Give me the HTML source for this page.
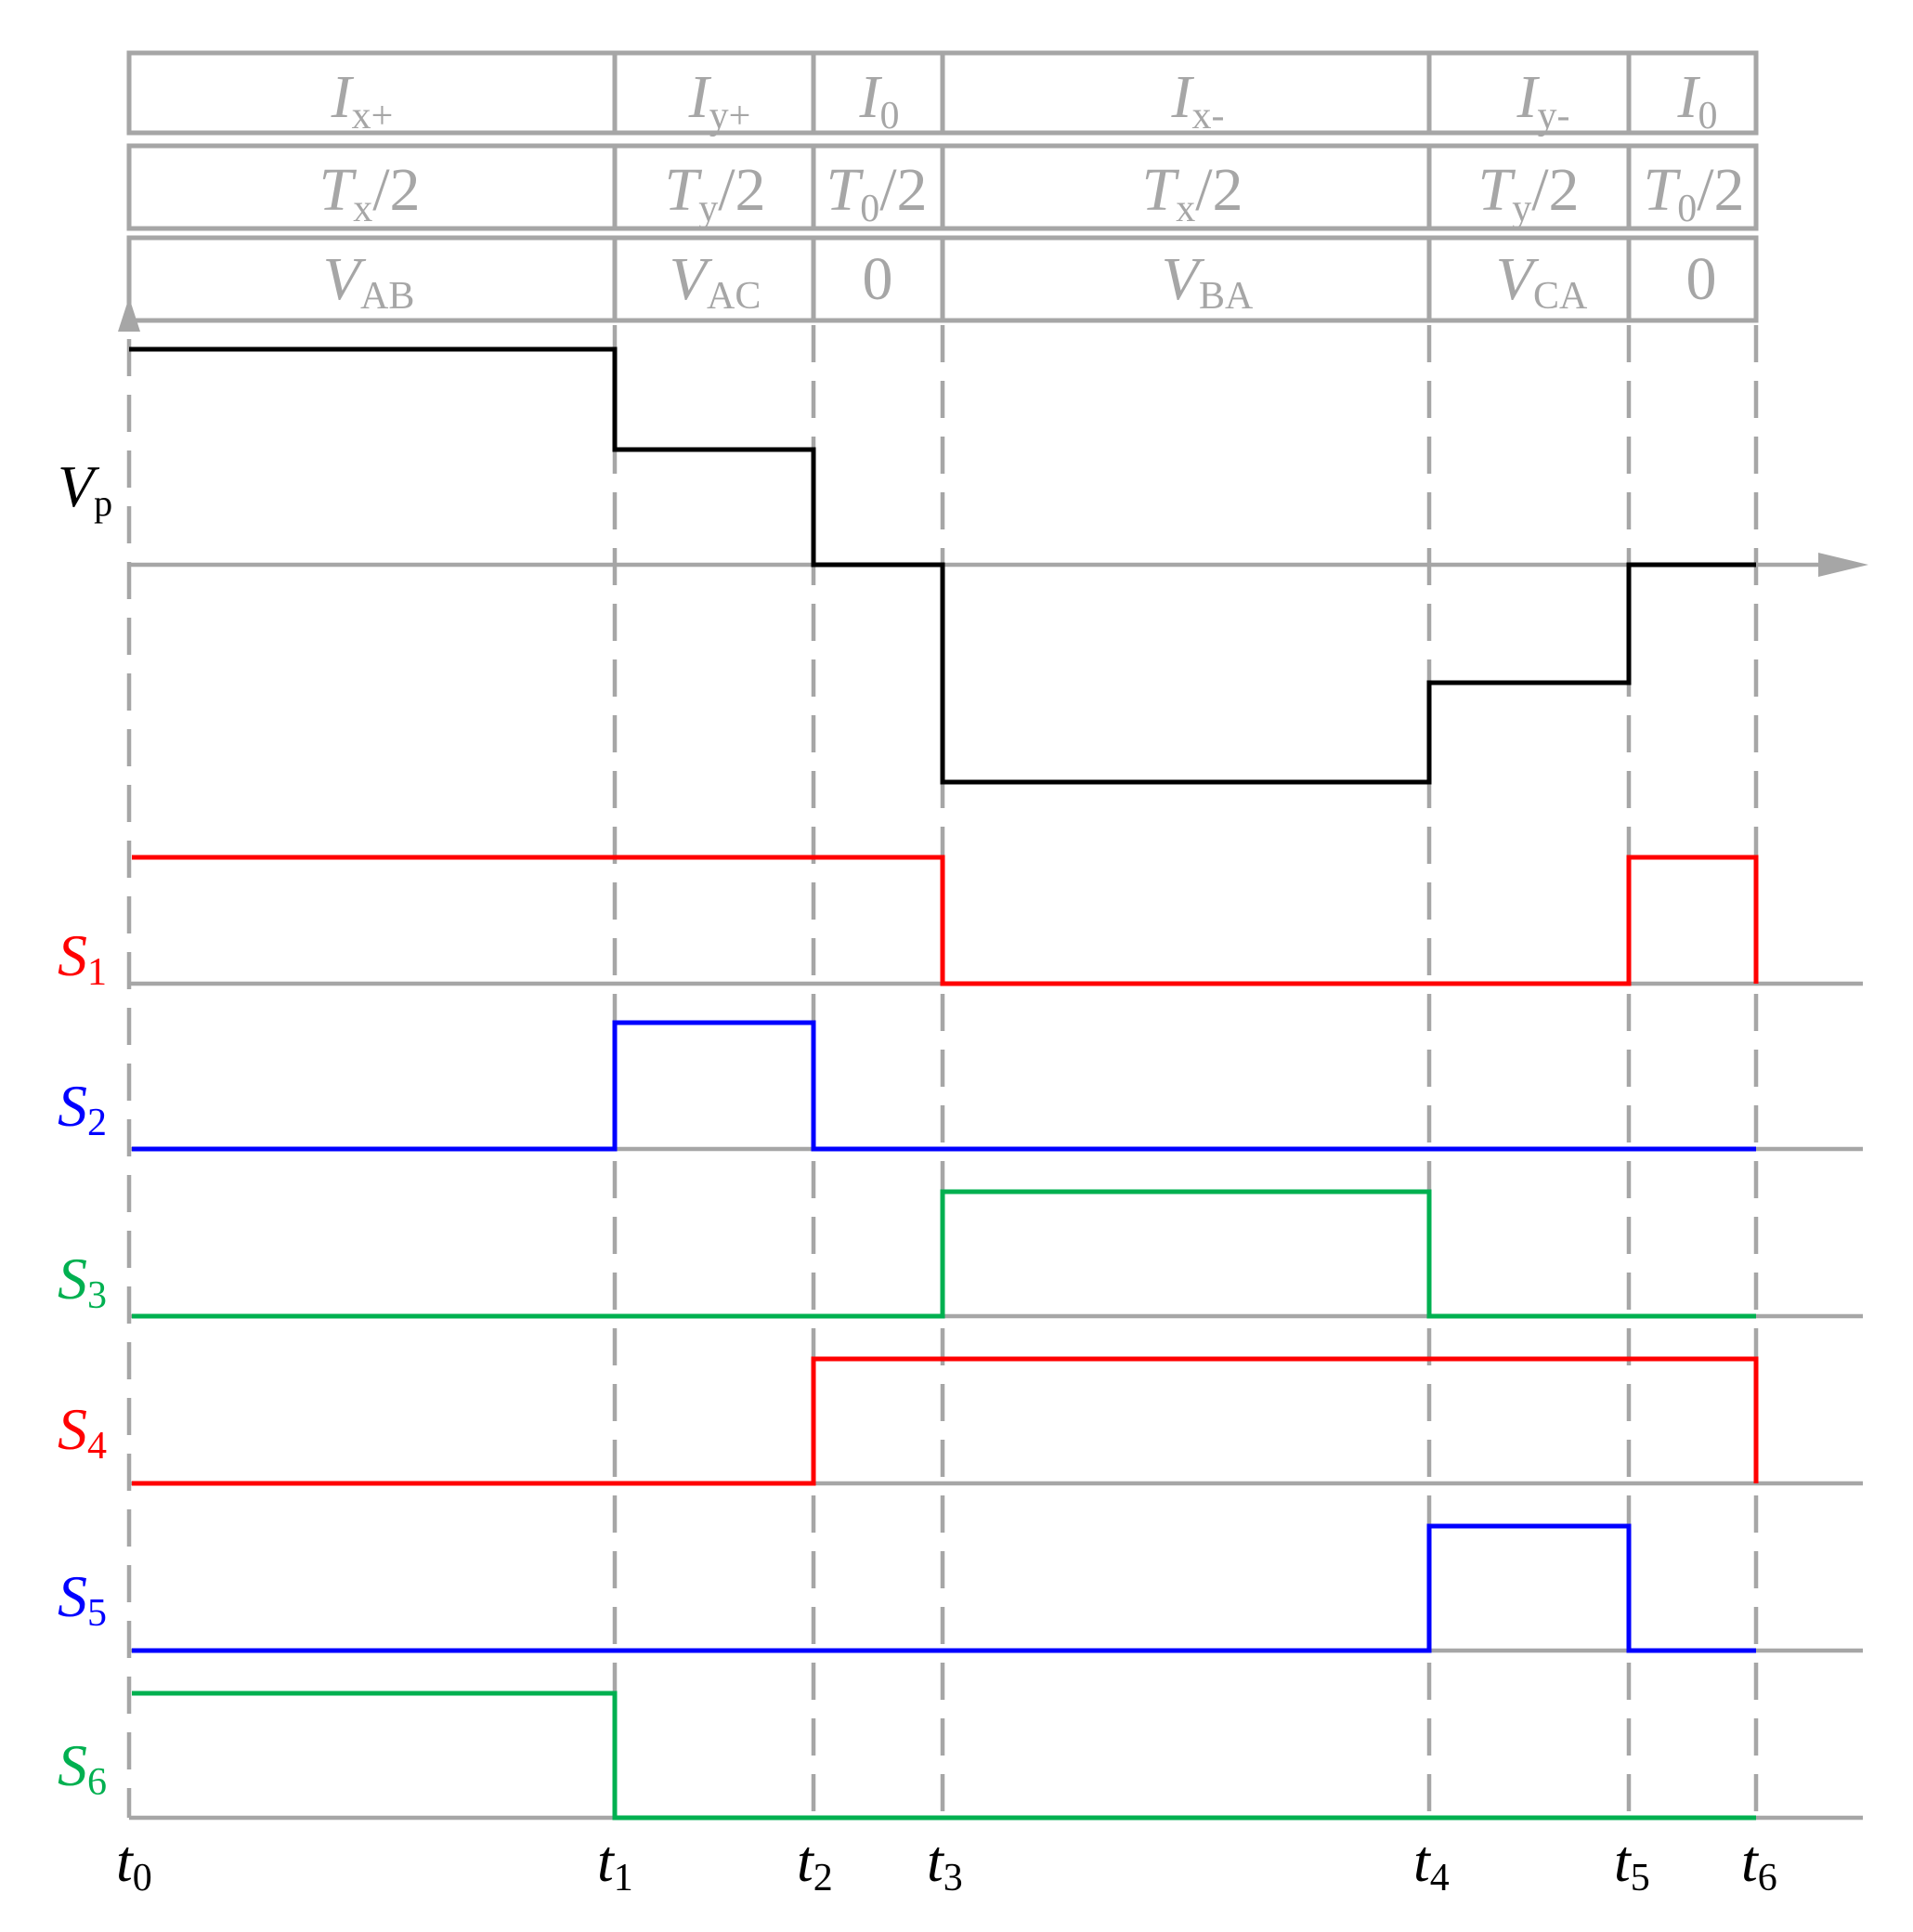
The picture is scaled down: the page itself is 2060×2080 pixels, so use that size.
<!DOCTYPE html>
<html><head><meta charset="utf-8"><style>html,body{margin:0;padding:0;background:#fff}svg{display:block}</style></head>
<body>
<svg width="2060" height="2080" viewBox="0 0 2060 2080" xmlns="http://www.w3.org/2000/svg" font-family="Liberation Serif, serif">
<g stroke="#a6a6a6" stroke-width="5" fill="none">
<rect x="139" y="57" width="1752" height="86"/>
<rect x="139" y="157" width="1752" height="89"/>
<rect x="139" y="256" width="1752" height="89"/>
<path d="M662 57V143M876 57V143M1015 57V143M1539 57V143M1754 57V143"/>
<path d="M662 157V246M876 157V246M1015 157V246M1539 157V246M1754 157V246"/>
<path d="M662 256V345M876 256V345M1015 256V345M1539 256V345M1754 256V345"/>
</g>
<g stroke="#a6a6a6" stroke-width="4.5" fill="none" stroke-dasharray="40 20">
<path d="M139 365V1957M662 350V1957M876 350V1957M1015 350V1957M1539 350V1957M1754 350V1957M1891 350V1957"/>
</g>
<g stroke="#a6a6a6" stroke-width="4.5" fill="none">
<path d="M139 608H1965"/>
<path d="M139 1059H2006M139 1237H2006M139 1417H2006M139 1597H2006M139 1777H2006M139 1957H2006"/>
</g>
<polygon points="1958,595 2012,608 1958,621" fill="#a6a6a6"/>
<polygon points="139,320 127,357 151,357" fill="#a6a6a6"/>
<g fill="none" stroke-width="5" stroke-linejoin="miter">
<path stroke="#000" d="M139 376H662V484H876V608H1015V842H1539V735H1754V608H1891"/>
<path stroke="#ff0000" d="M142 923H1015V1059H1754V923H1891V1059"/>
<path stroke="#0000ff" d="M142 1237H662V1101H876V1237H1891"/>
<path stroke="#00b050" d="M142 1417H1015V1283H1539V1417H1891"/>
<path stroke="#ff0000" d="M142 1597H876V1463H1891V1597"/>
<path stroke="#0000ff" d="M142 1777H1539V1643H1754V1777H1891"/>
<path stroke="#00b050" d="M142 1823H662V1957H1891"/>
</g>
<g fill="#a6a6a6" font-size="66" text-anchor="middle">
<text x="390" y="126"><tspan font-style="italic">I</tspan><tspan font-size="42" dy="12">x+</tspan></text>
<text x="775" y="126"><tspan font-style="italic">I</tspan><tspan font-size="42" dy="12">y+</tspan></text>
<text x="947" y="126"><tspan font-style="italic">I</tspan><tspan font-size="42" dy="12">0</tspan></text>
<text x="1290" y="126"><tspan font-style="italic">I</tspan><tspan font-size="42" dy="12">x-</tspan></text>
<text x="1662" y="126"><tspan font-style="italic">I</tspan><tspan font-size="42" dy="12">y-</tspan></text>
<text x="1828" y="126"><tspan font-style="italic">I</tspan><tspan font-size="42" dy="12">0</tspan></text>
<text x="398" y="226"><tspan font-style="italic">T</tspan><tspan font-size="42" dy="12">x</tspan><tspan dy="-12">/2</tspan></text>
<text x="770" y="226"><tspan font-style="italic">T</tspan><tspan font-size="42" dy="12">y</tspan><tspan dy="-12">/2</tspan></text>
<text x="944" y="226"><tspan font-style="italic">T</tspan><tspan font-size="42" dy="12">0</tspan><tspan dy="-12">/2</tspan></text>
<text x="1284" y="226"><tspan font-style="italic">T</tspan><tspan font-size="42" dy="12">x</tspan><tspan dy="-12">/2</tspan></text>
<text x="1646" y="226"><tspan font-style="italic">T</tspan><tspan font-size="42" dy="12">y</tspan><tspan dy="-12">/2</tspan></text>
<text x="1824" y="226"><tspan font-style="italic">T</tspan><tspan font-size="42" dy="12">0</tspan><tspan dy="-12">/2</tspan></text>
<text x="397" y="322"><tspan font-style="italic">V</tspan><tspan font-size="42" dy="10">AB</tspan></text>
<text x="770" y="322"><tspan font-style="italic">V</tspan><tspan font-size="42" dy="10">AC</tspan></text>
<text x="945" y="322">0</text>
<text x="1300" y="322"><tspan font-style="italic">V</tspan><tspan font-size="42" dy="10">BA</tspan></text>
<text x="1660" y="322"><tspan font-style="italic">V</tspan><tspan font-size="42" dy="10">CA</tspan></text>
<text x="1832" y="322">0</text>
</g>
<g font-size="64">
<text x="62" y="545" fill="#000"><tspan font-style="italic">V</tspan><tspan font-size="40" dy="10">p</tspan></text>
<text x="62" y="1050" fill="#ff0000"><tspan font-style="italic">S</tspan><tspan font-size="42" dy="10">1</tspan></text>
<text x="62" y="1212" fill="#0000ff"><tspan font-style="italic">S</tspan><tspan font-size="42" dy="10">2</tspan></text>
<text x="62" y="1398" fill="#00b050"><tspan font-style="italic">S</tspan><tspan font-size="42" dy="10">3</tspan></text>
<text x="62" y="1560" fill="#ff0000"><tspan font-style="italic">S</tspan><tspan font-size="42" dy="10">4</tspan></text>
<text x="62" y="1740" fill="#0000ff"><tspan font-style="italic">S</tspan><tspan font-size="42" dy="10">5</tspan></text>
<text x="62" y="1922" fill="#00b050"><tspan font-style="italic">S</tspan><tspan font-size="42" dy="10">6</tspan></text>
</g>
<g font-size="64" fill="#000">
<text x="125" y="2025"><tspan font-style="italic">t</tspan><tspan font-size="42" dy="10">0</tspan></text>
<text x="643" y="2025"><tspan font-style="italic">t</tspan><tspan font-size="42" dy="10">1</tspan></text>
<text x="858" y="2025"><tspan font-style="italic">t</tspan><tspan font-size="42" dy="10">2</tspan></text>
<text x="998" y="2025"><tspan font-style="italic">t</tspan><tspan font-size="42" dy="10">3</tspan></text>
<text x="1522" y="2025"><tspan font-style="italic">t</tspan><tspan font-size="42" dy="10">4</tspan></text>
<text x="1738" y="2025"><tspan font-style="italic">t</tspan><tspan font-size="42" dy="10">5</tspan></text>
<text x="1875" y="2025"><tspan font-style="italic">t</tspan><tspan font-size="42" dy="10">6</tspan></text>
</g>
</svg>
</body></html>
